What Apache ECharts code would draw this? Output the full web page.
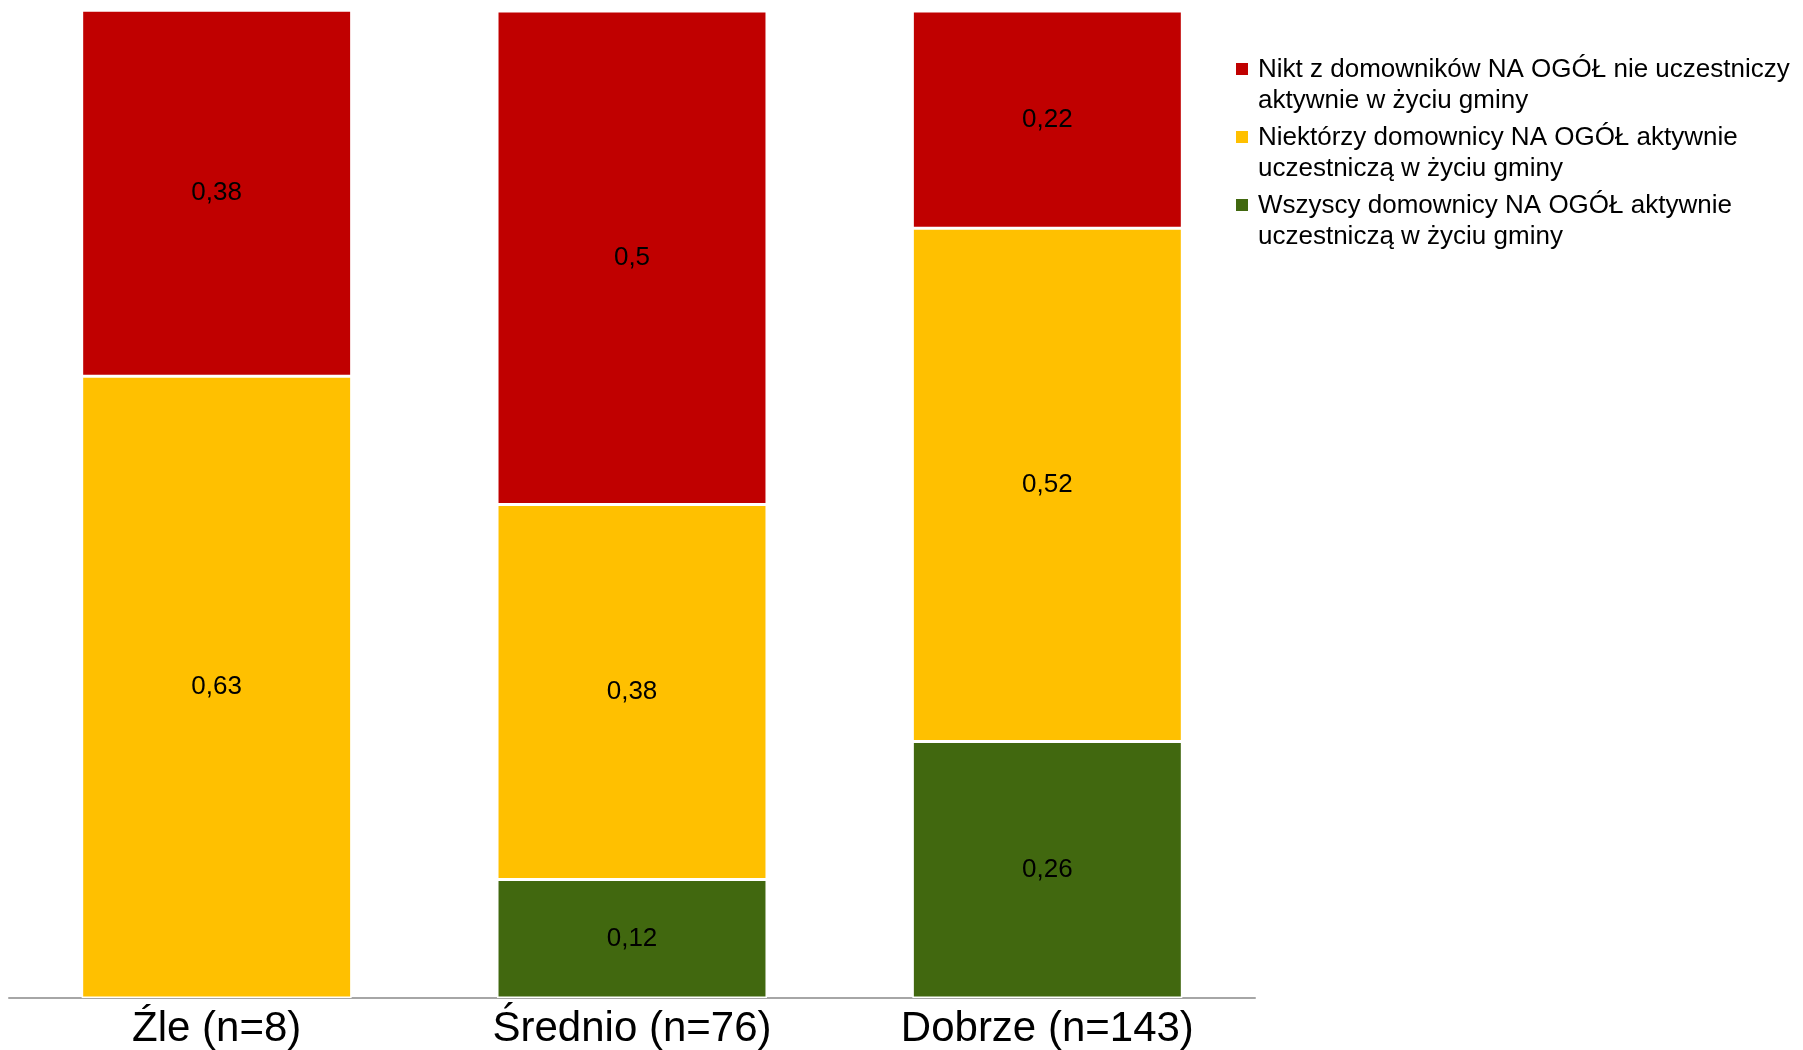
<!DOCTYPE html>
<html><head><meta charset="utf-8">
<script src="https://cdn.jsdelivr.net/npm/echarts@6/dist/echarts.min.js"></script>
<style>html,body{margin:0;padding:0;background:#fff}#c{width:1803px;height:1050px}</style>
</head><body><div id="c"></div>
<script>
const categories = ['Źle (n=8)', 'Średnio (n=76)', 'Dobrze (n=143)'];
const seriesNames = [
  'Nikt z domowników NA OGÓŁ nie uczestniczy\naktywnie w życiu gminy',
  'Niektórzy domownicy NA OGÓŁ aktywnie\nuczestniczą w życiu gminy',
  'Wszyscy domownicy NA OGÓŁ aktywnie\nuczestniczą w życiu gminy'
];
const nikt = [0.38, 0.5, 0.22];
const niektorzy = [0.63, 0.38, 0.52];
const wszyscy = [null, 0.12, 0.26];
const colors = ['#C00000', '#FFC000', '#41680F'];

const chart = echarts.init(document.getElementById('c'));
const lbl = {
  show: true, position: 'inside', color: '#000',
  fontFamily: 'Liberation Sans, Arial, sans-serif', fontSize: 26,
  formatter: p => String(p.value).replace('.', ',')
};
function mk(name, data, color) {
  return {
    name, type: 'bar', stack: 's', data, barCategoryGap: '35%', clip: true,
    itemStyle: { color, borderColor: '#fff', borderWidth: 1.5 },
    label: lbl
  };
}
chart.setOption({
  animation: false,
  grid: { left: 9, right: 548, top: 11, bottom: 51 },
  legend: {
    orient: 'vertical', left: 1229, top: 48,
    data: seriesNames,
    itemWidth: 14, itemHeight: 62, itemGap: 4,
    icon: 'path://M0,0L0.01,0L0,0.01Z M0,8L14,8L14,22L0,22Z M0,62L0.01,62L0,62.01Z',
    textStyle: { fontFamily: 'Liberation Sans, Arial, sans-serif', fontSize: 26, lineHeight: 31, color: '#000', padding: [0,0,0,4] }
  },
  xAxis: {
    type: 'category', data: categories,
    axisLine: { lineStyle: { color: '#A6A6A6', width: 2 } },
    axisTick: { show: false },
    axisLabel: { fontFamily: 'Liberation Sans, Arial, sans-serif', fontSize: 42, color: '#000', margin: 10 }
  },
  yAxis: { type: 'value', min: 0, max: 1, show: false, splitLine: { show: false } },
  series: [
    mk(seriesNames[2], wszyscy, colors[2]),
    mk(seriesNames[1], niektorzy, colors[1]),
    mk(seriesNames[0], nikt, colors[0])
  ]
});
</script></body></html>
